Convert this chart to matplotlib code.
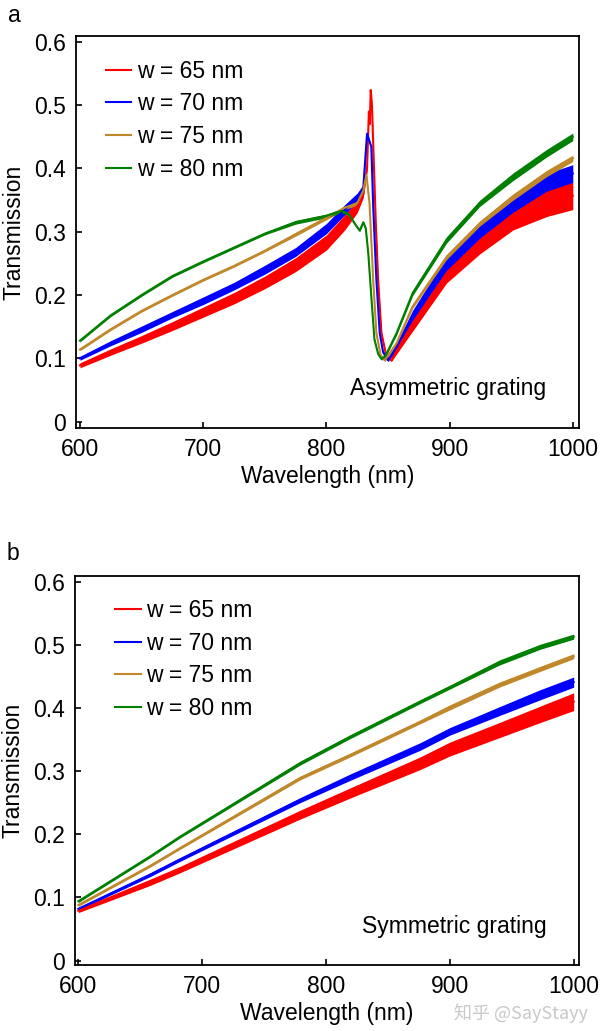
import numpy as np
import matplotlib
matplotlib.use('Agg')
import matplotlib.pyplot as plt

plt.rcParams['font.family'] = ['Liberation Sans', 'DejaVu Sans']

labels = ['w = 65 nm', 'w = 70 nm', 'w = 75 nm', 'w = 80 nm']
colors = ['#ff0000', '#0000ff', '#c0882a', '#008000']
x_ticks = [600, 700, 800, 900, 1000]
y_ticks = [0, 0.1, 0.2, 0.3, 0.4, 0.5, 0.6]
y_tick_labels = ['0', '0.1', '0.2', '0.3', '0.4', '0.5', '0.6']

# panel a: asymmetric grating (wavelength nm, transmission, half width of the fringe band)
wl_a_65 = [600, 625, 650, 675, 700, 725, 750, 775, 800, 815, 825, 830, 833, 834.5, 835.2, 836, 837, 838,
           840, 842, 844.7, 848.7, 852.8, 857, 870, 897.5, 924.5, 951.6, 978.7, 1000]
tr_a_65 = [0.089, 0.110, 0.130, 0.151, 0.173, 0.195, 0.220, 0.248, 0.283, 0.315, 0.340, 0.360, 0.400, 0.490,
           0.470, 0.524, 0.500, 0.440, 0.320, 0.224, 0.140, 0.103, 0.097, 0.113, 0.155, 0.234, 0.282, 0.322,
           0.345, 0.357]
bw_a_65 = [0.004, 0.005, 0.006, 0.007, 0.008, 0.009, 0.010, 0.011, 0.012, 0.012, 0.010, 0.006, 0.003, 0.003,
           0.003, 0.003, 0.003, 0.003, 0.002, 0.002, 0.002, 0.002, 0.002, 0.006, 0.012, 0.015, 0.017, 0.019,
           0.021, 0.022]

wl_a_70 = [600, 625, 650, 675, 700, 725, 750, 775, 800, 815, 825, 830, 833, 836.5, 838, 840.6, 843.3, 846,
           850, 857, 870, 897.5, 924.5, 951.6, 978.7, 1000]
tr_a_70 = [0.100, 0.124, 0.146, 0.169, 0.191, 0.214, 0.240, 0.268, 0.305, 0.335, 0.355, 0.370, 0.455, 0.434,
           0.340, 0.224, 0.140, 0.110, 0.097, 0.118, 0.168, 0.250, 0.303, 0.345, 0.378, 0.392]
bw_a_70 = [0.003, 0.004, 0.005, 0.005, 0.006, 0.006, 0.007, 0.007, 0.008, 0.008, 0.006, 0.004, 0.002, 0.002,
           0.002, 0.002, 0.002, 0.002, 0.002, 0.005, 0.008, 0.011, 0.013, 0.014, 0.014, 0.014]

wl_a_75 = [600, 625, 650, 675, 700, 725, 750, 775, 800, 815, 825, 830, 832.5, 835, 838, 840.6, 844, 847.4,
           857, 870, 897.5, 924.5, 951.6, 978.7, 1000]
tr_a_75 = [0.114, 0.146, 0.175, 0.200, 0.224, 0.246, 0.270, 0.296, 0.322, 0.338, 0.345, 0.365, 0.390, 0.345,
           0.224, 0.140, 0.105, 0.097, 0.124, 0.182, 0.260, 0.313, 0.355, 0.392, 0.416]
bw_a_75 = [0.002, 0.002, 0.002, 0.002, 0.002, 0.002, 0.002, 0.003, 0.003, 0.003, 0.003, 0.002, 0.002, 0.002,
           0.002, 0.002, 0.002, 0.002, 0.002, 0.003, 0.004, 0.004, 0.005, 0.005, 0.005]

wl_a_80 = [600, 625, 650, 675, 700, 725, 750, 775, 800, 812, 818, 824, 827, 830, 832, 834, 836.5, 839, 842,
           844.7, 848, 857, 870, 897.5, 924.5, 951.6, 978.7, 1000]
tr_a_80 = [0.128, 0.168, 0.200, 0.230, 0.253, 0.275, 0.297, 0.315, 0.325, 0.333, 0.328, 0.310, 0.302, 0.315,
           0.305, 0.266, 0.197, 0.130, 0.107, 0.099, 0.104, 0.140, 0.203, 0.287, 0.345, 0.387, 0.424, 0.450]
bw_a_80 = [0.002, 0.002, 0.002, 0.002, 0.002, 0.002, 0.002, 0.003, 0.003, 0.003, 0.002, 0.002, 0.002, 0.002,
           0.002, 0.002, 0.002, 0.002, 0.002, 0.002, 0.002, 0.003, 0.004, 0.005, 0.005, 0.006, 0.006, 0.006]

# panel b: symmetric grating, one wavelength grid for all four widths
wl_b = [600, 658, 682, 779, 819, 876, 900, 940, 973, 1000]
tr_b_65 = [0.079, 0.124, 0.144, 0.231, 0.265, 0.3125, 0.335, 0.365, 0.390, 0.410]
tr_b_70 = [0.082, 0.136, 0.160, 0.254, 0.290, 0.339, 0.363, 0.395, 0.421, 0.441]
tr_b_75 = [0.088, 0.150, 0.178, 0.289, 0.325, 0.378, 0.401, 0.437, 0.462, 0.482]
tr_b_80 = [0.094, 0.165, 0.196, 0.3125, 0.354, 0.410, 0.433, 0.472, 0.497, 0.513]
bw_b_65 = [0.003, 0.005, 0.005, 0.007, 0.008, 0.010, 0.011, 0.012, 0.013, 0.014]
bw_b_70 = [0.002, 0.003, 0.003, 0.004, 0.005, 0.006, 0.006, 0.007, 0.008, 0.008]
bw_b_75 = [0.002, 0.002, 0.002, 0.003, 0.003, 0.003, 0.004, 0.004, 0.004, 0.004]
bw_b_80 = [0.002, 0.002, 0.002, 0.003, 0.003, 0.003, 0.003, 0.004, 0.004, 0.004]


def draw_curve(ax, wl, tr, bw, color, label):
    """Draws one spectrum as a line with its fringe band around it."""
    wl = np.asarray(wl)
    tr = np.asarray(tr)
    bw = np.asarray(bw)
    ax.fill_between(wl, tr - bw, tr + bw, color=color, linewidth=0)
    line, = ax.plot(wl, tr, color=color, linewidth=1.5, label=label)
    return line


def style_axes(ax, xlim, ylim, note):
    """Sets limits, ticks, labels and the legend of one panel."""
    ax.set_xlim(*xlim)
    ax.set_ylim(*ylim)
    ax.set_xticks(x_ticks)
    ax.set_yticks(y_ticks)
    ax.set_yticklabels(y_tick_labels)
    ax.tick_params(direction='in', length=4, width=1.2, labelsize=16.5, pad=7, top=False, right=False)
    for sp in ax.spines.values():
        sp.set_linewidth(1.3)
    ax.set_xlabel('Wavelength (nm)', fontsize=16.5)
    ax.set_ylabel('Transmission', fontsize=16.5)
    ax.xaxis.set_label_coords(0.5, -0.095)
    ax.yaxis.set_label_coords(-0.1, 0.5)
    ax.text(0.935, 0.10, note, transform=ax.transAxes, ha='right', va='center', fontsize=16.5)
    ax.legend(loc='upper left', bbox_to_anchor=(0.06 if 'Asym' in note else 0.08, 0.94), frameon=False,
              fontsize=16.5, handlelength=1.1, handletextpad=0.25, labelspacing=0.42, borderpad=0,
              borderaxespad=0)


fig = plt.figure(figsize=(6.0, 10.31), dpi=100)

ax_a = fig.add_axes([0.1267, 0.5849, 0.838, 0.380])
draw_curve(ax_a, wl_a_65, tr_a_65, bw_a_65, colors[0], labels[0])
draw_curve(ax_a, wl_a_70, tr_a_70, bw_a_70, colors[1], labels[1])
draw_curve(ax_a, wl_a_75, tr_a_75, bw_a_75, colors[2], labels[2])
draw_curve(ax_a, wl_a_80, tr_a_80, bw_a_80, colors[3], labels[3])
style_axes(ax_a, (596.8, 1004.9), (-0.01, 0.609), 'Asymmetric grating')

ax_b = fig.add_axes([0.125, 0.064, 0.840, 0.3776])
draw_curve(ax_b, wl_b, tr_b_65, bw_b_65, colors[0], labels[0])
draw_curve(ax_b, wl_b, tr_b_70, bw_b_70, colors[1], labels[1])
draw_curve(ax_b, wl_b, tr_b_75, bw_b_75, colors[2], labels[2])
draw_curve(ax_b, wl_b, tr_b_80, bw_b_80, colors[3], labels[3])
style_axes(ax_b, (597.3, 1004.3), (-0.007, 0.6095), 'Symmetric grating')

fig.text(8 / 600, 1 - 15 / 1031, 'a', fontsize=16.5, ha='left', va='center')
fig.text(7 / 600, 1 - 553 / 1031, 'b', fontsize=16.5, ha='left', va='center')
fig.text(588 / 600, 1 - 1013 / 1031, '知乎 @SayStayy', fontsize=13, color='#c8c8c8', ha='right', va='center',
         family=['Noto Sans CJK SC', 'DejaVu Sans'])

fig.savefig('out.png', dpi=100)
